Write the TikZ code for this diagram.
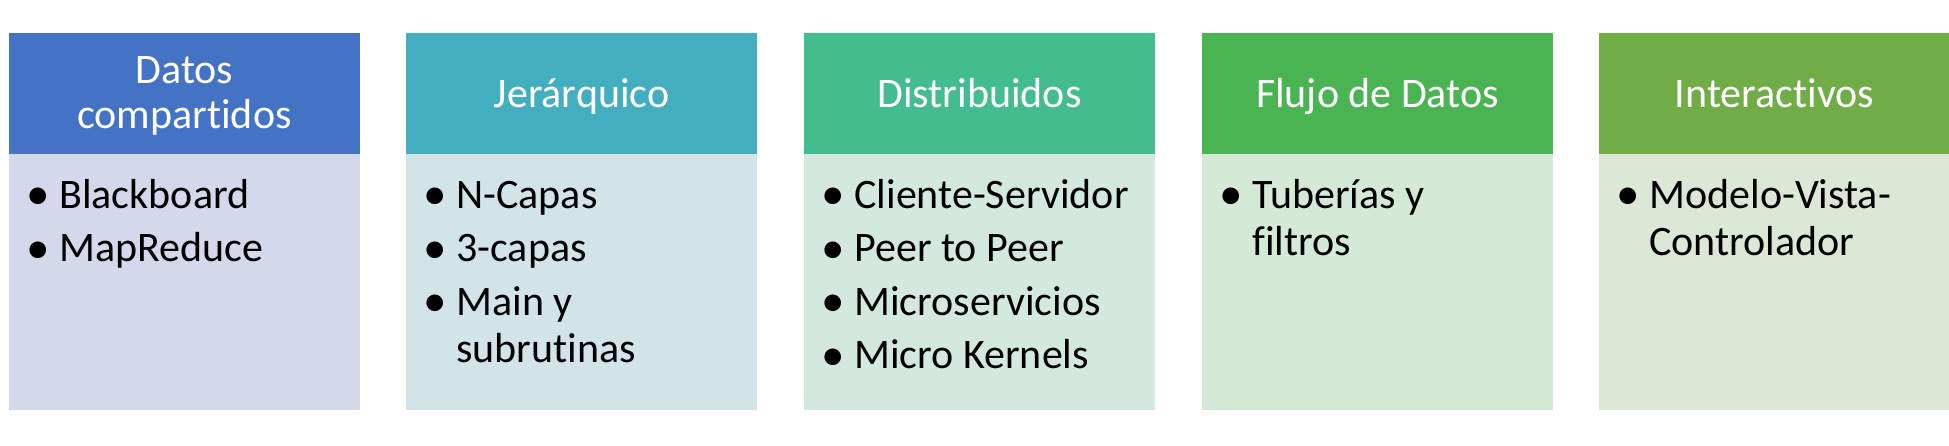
\documentclass[tikz,border=0pt]{standalone}
\usepackage{fontspec}
\setmainfont{Carlito}[Ligatures={NoCommon}]
\definecolor{hA}{HTML}{4472C4}
\definecolor{hB}{HTML}{44AEC1}
\definecolor{hC}{HTML}{43BD8D}
\definecolor{hD}{HTML}{4AB453}
\definecolor{hE}{HTML}{70AD47}
\definecolor{bA}{HTML}{D3D8EA}
\definecolor{bB}{HTML}{D2E4E8}
\definecolor{bC}{HTML}{D3E9E0}
\definecolor{bD}{HTML}{D5E9D7}
\definecolor{bE}{HTML}{DAE8D5}
\newcommand{\bl}{\makebox[15pt][l]{\makebox[9pt][c]{\raisebox{-0.04em}{\scalebox{1.12}{\textbullet}}}}}
\begin{document}
\begin{tikzpicture}[x=0.5pt,y=-0.5pt,
  hdrbox/.style={anchor=north west, draw=none, inner sep=0pt, outer sep=0pt, minimum width=175.5pt, minimum height=60.5pt},
  bodybox/.style={anchor=north west, draw=none, inner sep=0pt, outer sep=0pt, minimum width=175.5pt, minimum height=128pt},
  hdrtext/.style={anchor=base, inner sep=0pt, text=white, font=\fontsize{21}{22.5}\selectfont},
  bodytext/.style={anchor=base west, inner sep=0pt, text=black, font=\fontsize{21}{23.5}\selectfont}]
\useasboundingbox (0,0) rectangle (1949,445);
\fill[white] (0,0) rectangle (1949,445);
% column 1
\node[hdrbox, fill=hA] (h1) at (9,33) {};
\node[bodybox, fill=bA] (b1) at (9,154) {};
\node[hdrtext] (t1) at (184.5,83) {\begin{tabular}[t]{@{}c@{}}Datos\\compartidos\end{tabular}};
\node[bodytext] (l1) at (29,208) {\begin{tabular}[t]{@{}l@{}l@{}}\bl&Blackboard\\[3.25pt]\bl&MapReduce\end{tabular}};
% column 2
\node[hdrbox, fill=hB] (h2) at (406,33) {};
\node[bodybox, fill=bB] (b2) at (406,154) {};
\node[hdrtext] (t2) at (581.5,107) {Jerárquico};
\node[bodytext] (l2) at (426,208) {\begin{tabular}[t]{@{}l@{}l@{}}\bl&N-Capas\\[3.25pt]\bl&3-capas\\[3.25pt]\bl&Main y\\&subrutinas\end{tabular}};
% column 3
\node[hdrbox, fill=hC] (h3) at (804,33) {};
\node[bodybox, fill=bC] (b3) at (804,154) {};
\node[hdrtext] (t3) at (979.5,107) {Distribuidos};
\node[bodytext] (l3) at (824,208) {\begin{tabular}[t]{@{}l@{}l@{}}\bl&Cliente-Servidor\\[3.25pt]\bl&Peer to Peer\\[3.25pt]\bl&Microservicios\\[3.25pt]\bl&Micro Kernels\end{tabular}};
% column 4
\node[hdrbox, fill=hD] (h4) at (1202,33) {};
\node[bodybox, fill=bD] (b4) at (1202,154) {};
\node[hdrtext] (t4) at (1377.5,107) {Flujo de Datos};
\node[bodytext] (l4) at (1222,208) {\begin{tabular}[t]{@{}l@{}l@{}}\bl&Tuberías y\\&filtros\end{tabular}};
% column 5
\node[hdrbox, fill=hE] (h5) at (1599,33) {};
\node[bodybox, fill=bE] (b5) at (1599,154) {};
\node[hdrtext] (t5) at (1774.5,107) {Interactivos};
\node[bodytext] (l5) at (1619,208) {\begin{tabular}[t]{@{}l@{}l@{}}\bl&Modelo-Vista-\\&Controlador\end{tabular}};
\end{tikzpicture}
\end{document}
